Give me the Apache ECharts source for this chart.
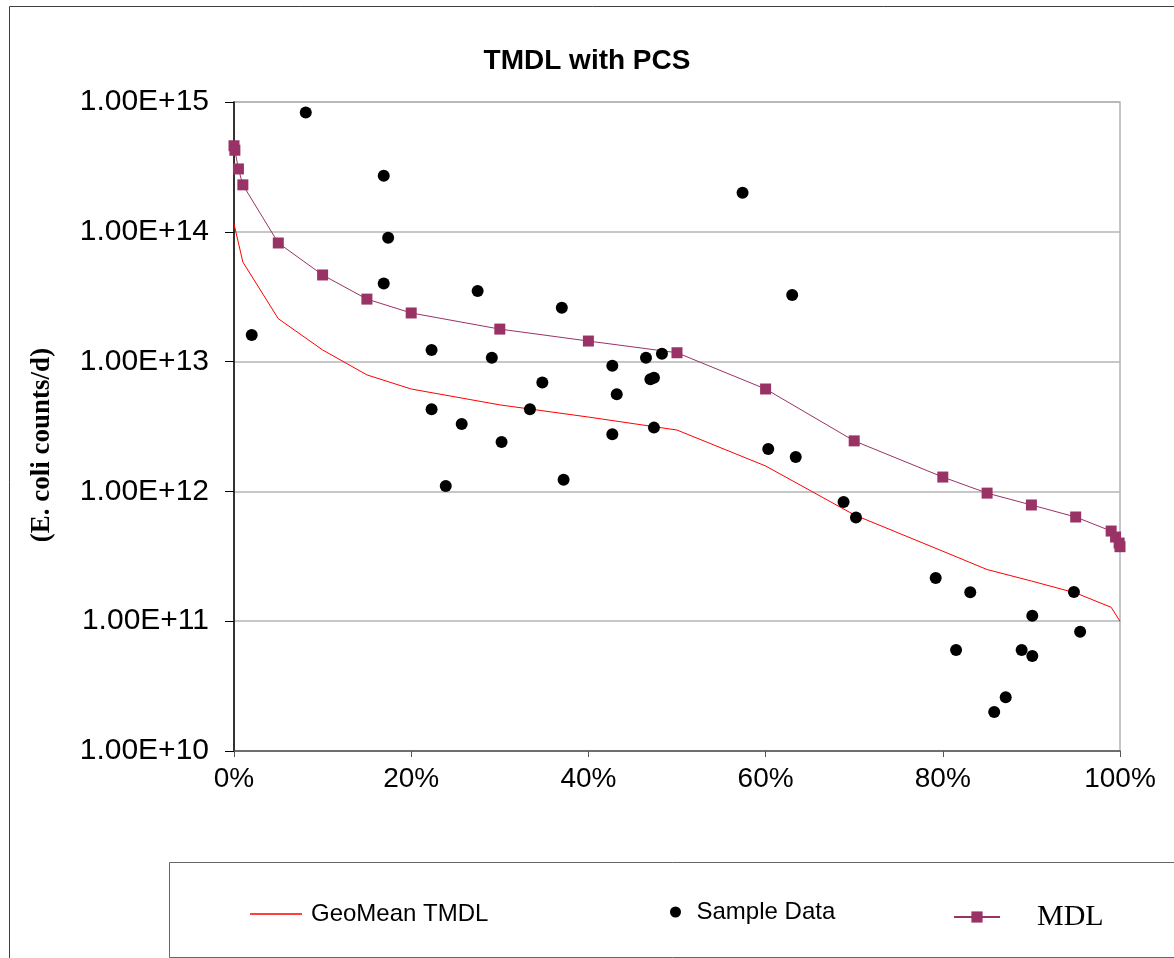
<!DOCTYPE html>
<html>
<head>
<meta charset="utf-8">
<script src="https://cdn.jsdelivr.net/npm/echarts@6/dist/echarts.min.js"></script>
<style>
html,body{margin:0;padding:0;background:#fff;}
#chart{width:1174px;height:958px;}
</style>
</head>
<body>
<div id="chart"></div>
<script>
// Sample data (exceedance %, E. coli counts/d)
var sampleX = [8.1,16.9,17.4,16.9,2.0,27.5,37.0,22.3,29.1,42.7,46.5,48.3,47.0,47.4,34.8,43.2,22.3,33.4,25.7,42.7,47.4,30.2,37.2,23.9,57.4,63.0,60.3,63.4,68.8,70.2,79.2,83.1,94.8,90.1,81.5,88.9,90.1,95.5,87.1,85.8];
var sampleY = [8.3e14,2.7e14,9.0e13,4.0e13,1.6e13,3.5e13,2.6e13,1.23e13,1.07e13,9.3e12,1.07e13,1.15e13,7.3e12,7.5e12,6.9e12,5.6e12,4.3e12,4.3e12,3.3e12,2.76e12,3.1e12,2.4e12,1.23e12,1.1e12,2.0e14,3.26e13,2.12e12,1.84e12,8.3e11,6.3e11,2.15e11,1.67e11,1.68e11,1.1e11,6.0e10,6.0e10,5.4e10,8.3e10,2.6e10,2.0e10];

// MDL curve
var mdlX = [0,0.1,0.5,1,5,10,15,20,30,40,50,60,70,80,85,90,95,99,99.5,99.9,100];
var mdlY = [4.6e14,4.25e14,3.05e14,2.3e14,8.2e13,4.65e13,3.03e13,2.37e13,1.78e13,1.44e13,1.17e13,6.15e12,2.45e12,1.29e12,9.7e11,7.86e11,6.35e11,4.95e11,4.45e11,4.0e11,3.75e11];

// GeoMean TMDL curve
var tmdlX = [0,1,5,10,15,20,30,40,50,60,70,80,85,90,95,99,100];
var tmdlY = [1.15e14,5.85e13,2.14e13,1.23e13,7.9e12,6.15e12,4.64e12,3.74e12,2.97e12,1.57e12,6.6e11,3.46e11,2.5e11,2.04e11,1.65e11,1.28e11,1.0e11];

var xTicks = {min:0, max:100, step:20};
var yRange = {min:1e10, max:1e15};

function pairs(xs, ys){ return xs.map(function(x,i){ return [x, ys[i]]; }); }

var SANS = '"Liberation Sans", Arial, sans-serif';
var SERIF = '"Liberation Serif", "Times New Roman", serif';

var chart = echarts.init(document.getElementById('chart'), null, {renderer:'canvas'});
chart.setOption({
  backgroundColor:'#ffffff',
  animation:false,
  title:{
    text:'TMDL with PCS',
    left:'center',
    top:42,
    textStyle:{fontFamily:SANS, fontWeight:'bold', fontSize:28, color:'#000'}
  },
  graphic:[
    {type:'rect', z:-10, silent:true, shape:{x:9.5,y:6.5,width:1300,height:1100},
     style:{fill:'none', stroke:'#404040', lineWidth:1}},
    {type:'rect', z:-10, silent:true, shape:{x:169.5,y:862.5,width:1200,height:95},
     style:{fill:'none', stroke:'#666666', lineWidth:1}},
    {type:'text', silent:true, x:42, y:445, rotation:Math.PI/2,
     style:{text:'(E. coli counts/d)', fill:'#000', font:'bold 27px ' + SERIF, textAlign:'center', textVerticalAlign:'middle'}}
  ],
  grid:{left:234, right:54, top:102, bottom:207, show:true, borderColor:'#b4b4b4', borderWidth:1.5, backgroundColor:'transparent'},
  xAxis:{
    type:'value', min:xTicks.min, max:xTicks.max, interval:xTicks.step,
    axisLine:{show:true, onZero:false, lineStyle:{color:'#555555', width:1.5}},
    axisTick:{show:true, inside:false, length:6, lineStyle:{color:'#555555'}},
    axisLabel:{formatter:'{value}%', fontFamily:SANS, fontSize:28, color:'#000', margin:14},
    splitLine:{show:false}
  },
  yAxis:{
    type:'log', logBase:10, min:yRange.min, max:yRange.max,
    axisLine:{show:true, lineStyle:{color:'#000', width:1.5}},
    axisTick:{show:true, inside:false, length:9, lineStyle:{color:'#000'}},
    axisLabel:{fontFamily:SANS, fontSize:30, color:'#000', margin:25,
      formatter:function(v){ return Number(v).toExponential(2).toUpperCase(); }},
    splitLine:{show:true, lineStyle:{color:'#b4b4b4', width:1.5}}
  },
  legend:[
    {data:[{name:'GeoMean TMDL', icon:'rect'}], left:245, top:897, itemWidth:52, itemHeight:1.5, itemGap:0,
     textStyle:{fontFamily:SANS, fontSize:24, color:'#000', padding:[0,0,0,4]}},
    {data:['Sample Data'], left:665, top:895, itemWidth:28, itemHeight:11, itemGap:0,
     textStyle:{fontFamily:SANS, fontSize:24, color:'#000', padding:[0,0,0,2]}},
    {data:['MDL'], left:948, top:897, itemWidth:46, itemHeight:14, itemGap:0,
     textStyle:{fontFamily:SERIF, fontSize:30, color:'#000', padding:[0,0,0,32]}}
  ],
  series:[
    {name:'GeoMean TMDL', type:'line', data:pairs(tmdlX, tmdlY), symbol:'none', smooth:false,
     lineStyle:{color:'#ff0000', width:1}, itemStyle:{color:'#ff0000'}, z:2},
    {name:'Sample Data', type:'scatter', data:pairs(sampleX, sampleY), symbol:'circle', symbolSize:12,
     itemStyle:{color:'#000000', opacity:1}, z:4},
    {name:'MDL', type:'line', data:pairs(mdlX, mdlY), symbol:'rect', symbolSize:11, showAllSymbol:true,
     lineStyle:{color:'#993366', width:1}, itemStyle:{color:'#993366'}, z:3}
  ]
});
</script>
</body>
</html>
